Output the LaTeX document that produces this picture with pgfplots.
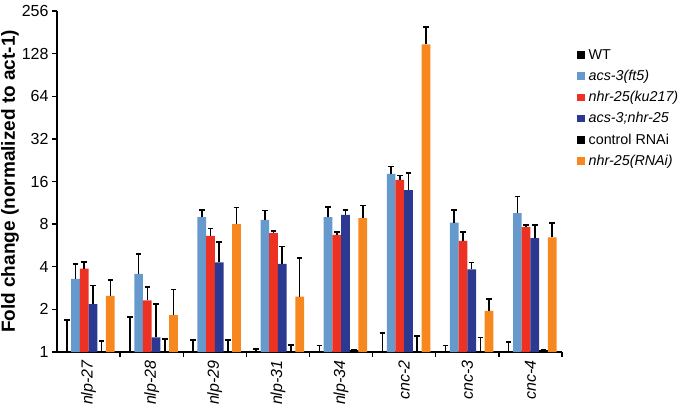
\documentclass[border=0pt]{standalone}
\usepackage{fontspec}
\setmainfont{Liberation Sans}
\usepackage{pgfplots}
\pgfplotsset{compat=1.18}
\usepackage{pgfplotstable}
\definecolor{cLB}{RGB}{102,153,204}
\definecolor{cRD}{RGB}{237,50,36}
\definecolor{cDB}{RGB}{43,57,144}
\definecolor{cOR}{RGB}{247,136,31}

\pgfplotstableread{
x y e
0 1 0.68
1 1 0.76
2 1 0.22
3 1 0.05
4 1 0.11
5 1 0.36
6 1 0.11
7 1 0.18
}\wt
\pgfplotstableread{
x y e
0 3.28 0.91
1 3.56 1.34
2 8.95 1.15
3 8.57 1.40
4 8.95 1.65
5 18.1 2.3
6 8.2 1.86
7 9.56 2.94
}\lb
\pgfplotstableread{
x y e
0 3.88 0.45
1 2.32 0.57
2 6.6 0.87
3 6.9 0.26
4 6.71 0.30
5 16.4 1.2
6 6.09 0.92
7 7.61 0.29
}\rd
\pgfplotstableread{
x y e
0 2.18 0.76
1 1.27 0.91
2 4.3 1.7
3 4.19 1.36
4 9.29 0.77
5 13.9 4.5
6 3.84 0.46
7 6.36 1.54
}\db
\pgfplotstableread{
x y e
0 1 0.20
1 1 0.24
2 1 0.21
3 1 0.12
4 1.03 0.0
5 1 0.30
6 1 0.27
7 1.03 0.0
}\ctl
\pgfplotstableread{
x y e
0 2.49 0.75
1 1.82 0.95
2 8.0 2.5
3 2.46 2.14
4 8.81 2.0
5 149 48
6 1.95 0.41
7 6.46 1.66
}\orr

\begin{document}
\begin{tikzpicture}[x=1pt,y=1pt]
\begin{axis}[
  at={(0,0)}, anchor=south west,
  scale only axis, width=505pt, height=341pt,
  ymode=log, log basis y=2, ymin=1, ymax=256,
  ytick={1,2,4,8,16,32,64,128,256},
  yticklabels={1,2,4,8,16,32,64,128,256},
  xmin=-0.5, xmax=7.5,
  xtick={0,...,7},
  xticklabels={nlp-27,nlp-28,nlp-29,nlp-31,nlp-34,cnc-2,cnc-3,cnc-4},
  x tick label style={rotate=90, anchor=east, font=\fontsize{16}{19}\selectfont\itshape},
  y tick label style={font=\fontsize{16}{19}\selectfont},
  minor xtick={0.5,1.5,...,7.5},
  axis lines*=left,
  axis line style={line width=1.4pt, black},
  tick align=outside,
  major tick length=5pt, minor tick length=5pt,
  major x tick style={draw=none},
  minor x tick style={line width=1.3pt, black},
  ytick style={line width=1.3pt, black},
  ylabel={\bfseries Fold change (normalized to act-1)},
  ylabel style={at={(axis description cs:-0.093,0.5)}, anchor=center, font=\fontsize{19}{22}\selectfont},
  ybar=0pt, bar width=8.7pt,
  error bars/y dir=plus, error bars/y explicit,
  error bars/error bar style={line width=1.6pt, black},
  error bars/error mark options={rotate=90, line width=1.6pt, mark size=2.8pt, black},
  legend style={at={(axis description cs:1.0297,0.894)}, anchor=north west, draw=none, fill=none,
    font=\fontsize{14.3}{17}\selectfont, row sep=5.4pt, column sep=2pt, inner sep=0pt, cells={anchor=west}},
  legend cell align=left,
]
\pgfplotsset{mylg/.style={legend image code/.code={\fill[##1] (0pt,-3.75pt) rectangle (7.5pt,3.75pt);}}}
\addplot[fill=black, draw=none, mylg] table[x=x, y=y, y error=e] {\wt};
\addplot[fill=cLB, draw=none, mylg] table[x=x, y=y, y error=e] {\lb};
\addplot[fill=cRD, draw=none, mylg] table[x=x, y=y, y error=e] {\rd};
\addplot[fill=cDB, draw=none, mylg] table[x=x, y=y, y error=e] {\db};
\addplot[fill=black, draw=none, mylg] table[x=x, y=y, y error=e] {\ctl};
\addplot[fill=cOR, draw=none, mylg] table[x=x, y=y, y error=e] {\orr};
\legend{WT, \textit{acs-3(ft5)}, \textit{nhr-25(ku217)}, \textit{acs-3;nhr-25}, control RNAi, \textit{nhr-25(RNAi)}}
\end{axis}
\pgfresetboundingbox
\useasboundingbox (-57,-55) rectangle (641,352);
\end{tikzpicture}
\end{document}
